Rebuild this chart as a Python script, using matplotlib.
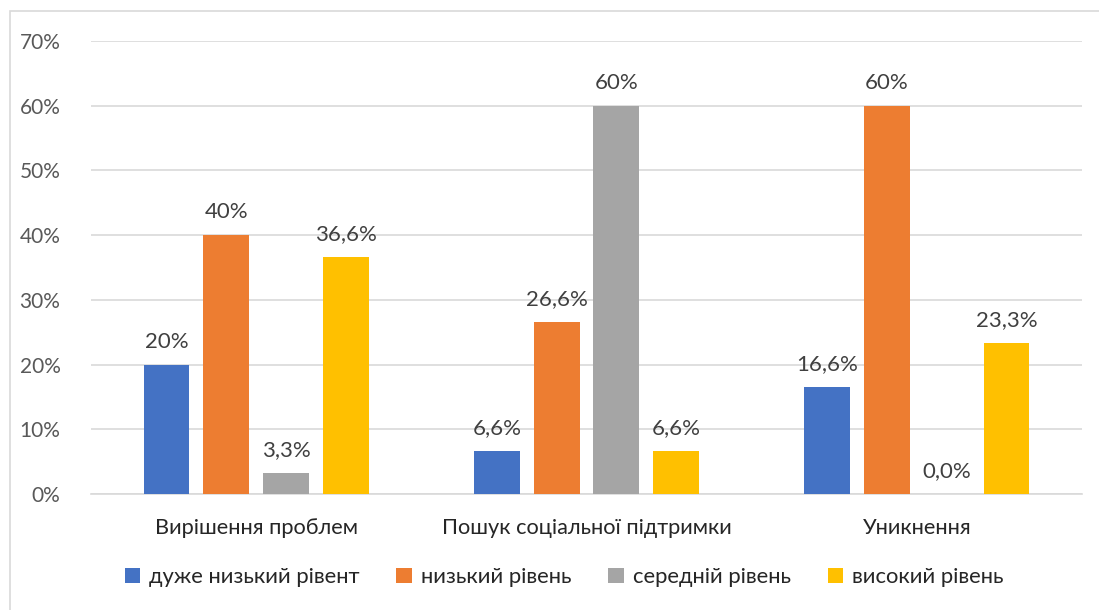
import numpy as np
import matplotlib.pyplot as plt
from matplotlib.patches import Rectangle

plt.rcParams['font.family'] = ['Lato', 'DejaVu Sans']

categories = ["Вирішення проблем", "Пошук соціальної підтримки", "Уникнення"]
series = ["дуже низький рівент", "низький рівень", "середній рівень", "високий рівень"]
values = [
    [20, 6.6, 16.6],
    [40, 26.6, 60],
    [3.3, 60, 0],
    [36.6, 6.6, 23.3],
]
labels = [
    ["20%", "6,6%", "16,6%"],
    ["40%", "26,6%", "60%"],
    ["3,3%", "60%", "0,0%"],
    ["36,6%", "6,6%", "23,3%"],
]
colors = ["#4472C4", "#ED7D31", "#A5A5A5", "#FFC000"]

fig = plt.figure(figsize=(10.99, 6.10), dpi=100)
ax = fig.add_axes([91 / 1099, 1 - 494 / 610, (1082 - 91) / 1099, (494 - 41) / 610])

x = np.arange(len(categories))
width = 0.139
step = 0.181
for i, (name, vals, labs, c) in enumerate(zip(series, values, labels, colors)):
    pos = x + (i - 1.5) * step
    ax.bar(pos, vals, width=width, color=c, label=name, zorder=3)
    for p, v, t in zip(pos, vals, labs):
        ax.text(p, v + 2.0, t, ha="center", va="bottom", fontsize=16, color="#404040")

ax.set_xlim(-0.5, 2.5)
ax.set_ylim(0, 70)
ax.set_yticks(np.arange(0, 71, 10))
ax.set_yticklabels([f"{t}%" for t in range(0, 71, 10)])
ax.set_xticks(x)
ax.set_xticklabels(categories)
ax.grid(axis="y", color="#D9D9D9", linewidth=1.2, zorder=0)
for s in ["top", "right", "left"]:
    ax.spines[s].set_visible(False)
ax.spines["bottom"].set_color("#D9D9D9")
ax.spines["bottom"].set_linewidth(1.2)
ax.tick_params(axis="y", length=0, labelsize=15, labelcolor="#595959", pad=22)
ax.tick_params(axis="x", length=0, labelsize=15.7, labelcolor="#262626", pad=17)

# chart frame
fig.patches.append(Rectangle((10 / 1099, -0.05), 1.2, 1 - 11 / 610 + 0.05,
                             transform=fig.transFigure, fill=False,
                             edgecolor="#D9D9D9", linewidth=1.2))

fig.legend(loc="center", bbox_to_anchor=(564 / 1099, 1 - 577 / 610), ncol=4,
           frameon=False, fontsize=15.8, labelcolor="#262626",
           handlelength=0.7, handleheight=0.7, handletextpad=0.4,
           columnspacing=1.7)

fig.savefig("out.png", dpi=100)
